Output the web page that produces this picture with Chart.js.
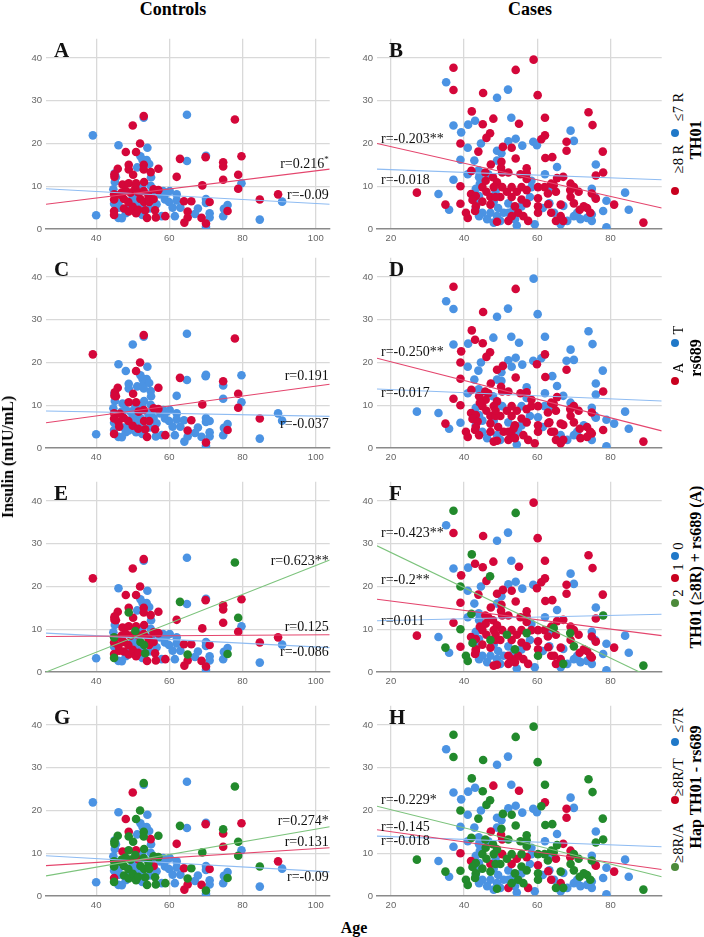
<!DOCTYPE html>
<html lang="en">
<head>
<meta charset="UTF-8">
<title>Insulin by Age</title>
<script src="https://cdn.jsdelivr.net/npm/chart.js"></script>
<style>
  body { margin: 0; background: #fff; width: 704px; height: 937px; position: relative; overflow: hidden; }
  .panel { position: absolute; }
  .txt { position: absolute; white-space: nowrap; line-height: 1; color: #000; font-family: "Liberation Serif", serif; }
  .bold { font-weight: bold; }
  .dot { position: absolute; width: 8px; height: 8px; border-radius: 50%; transform: translate(-50%, -50%); }
</style>
</head>
<body>
<script>
// ---- controls (same people in A, C, E, G; only the grouping changes)
const ctrlAge = [53.0,53.0,64.8,77.9,39.1,50.0,46.1,52.0,54.0,48.1,
  50.9,52.1,53.8,52.7,62.9,64.8,69.9,70.0,74.7,74.7,
  79.7,45.9,48.9,48.9,51.2,53.0,53.0,54.5,57.0,54.9,
  45.1,45.4,45.1,50.1,55.0,62.0,74.7,78.8,79.7,78.8,
  69.0,47.2,48.9,50.9,53.1,54.9,55.7,57.0,44.9,44.9,
  44.9,44.9,44.9,46.1,46.1,47.0,47.6,47.6,48.1,48.8,
  48.9,49.4,50.0,50.0,50.7,50.9,50.9,51.6,52.1,52.1,
  52.6,53.0,53.1,53.4,53.9,54.3,54.5,54.6,55.2,55.7,
  56.1,56.3,57.5,58.3,58.8,59.2,59.9,60.1,60.9,62.0,
  62.0,63.0,64.0,66.0,64.1,65.0,65.0,67.0,67.8,68.8,
  70.0,70.0,70.0,70.0,71.0,71.0,71.0,74.7,74.9,75.9,
  75.9,84.7,84.7,89.7,90.8,40.0,46.3,57.9,58.9,61.5,
  44.7,46.5,49.5,51.5,47.0,56.5,52.5,48.0,45.0,45.0];
const ctrlIns = [26.4,26.0,26.7,25.6,21.9,24.2,19.6,20.0,19.0,18.0,
  18.0,17.0,16.1,16.1,16.4,15.9,16.8,17.1,15.6,14.6,
  17.0,14.1,15.0,13.9,14.4,15.0,13.9,15.2,14.1,13.3,
  13.0,12.1,11.0,12.7,12.1,12.2,11.5,12.7,10.7,9.4,
  10.2,10.4,10.7,10.7,11.0,10.1,9.3,9.1,8.1,6.9,
  5.9,4.2,3.3,6.1,2.6,8.5,7.0,4.8,3.7,6.3,
  4.1,8.5,7.4,5.2,9.6,6.3,3.7,8.5,7.0,5.4,
  3.3,8.9,6.3,4.4,2.6,7.8,6.3,4.8,8.5,7.0,
  4.4,2.7,8.1,8.9,6.9,8.4,6.3,8.9,5.0,8.1,
  6.7,5.0,6.5,6.5,1.5,4.1,2.7,3.5,4.8,2.6,
  7.0,6.1,1.3,0.5,6.3,3.7,2.7,3.0,4.7,5.6,
  4.2,6.9,2.2,8.1,6.4,3.2,5.0,3.0,3.0,3.0,
  9.3,8.0,5.5,4.5,2.5,5.8,10.0,9.0,12.2,12.8];
// TH01: 1 = >=8R, 0 = <=7R
const ctrlTH01 = [1,0,0,1,0,1,0,1,0,1, 1,0,0,0,1,0,1,0,1,1, 1,1,1,1,0,1,1,0,1,1,
  0,0,0,1,0,1,1,1,0,1, 1,1,1,1,1,0,1,1,1,1, 0,1,1,0,0,1,1,1,0,1,
  1,1,0,1,1,0,1,1,1,0, 0,1,1,1,1,1,1,0,0,1, 1,1,0,0,0,0,0,0,0,0,
  0,0,1,1,1,1,1,0,0,1, 0,0,1,0,1,0,0,0,0,0, 1,1,0,1,0,0,0,0,1,0,
  0,1,0,1,0,0,0,1,1,1];
// rs689: 1 = A, 0 = T
const ctrlRs689 = [1,0,0,1,1,0,0,1,0,0, 1,0,0,0,1,0,0,0,1,0, 0,1,0,0,0,0,0,0,1,0,
  1,1,0,1,0,0,0,1,0,1, 1,0,1,1,0,0,1,1,1,1, 0,0,1,1,0,0,1,0,0,1,
  0,0,0,1,0,0,0,1,0,0, 0,1,1,1,1,0,1,0,0,0, 1,0,0,0,0,0,0,0,0,0,
  0,0,0,1,0,1,0,0,0,0, 0,0,1,0,0,0,0,0,0,0, 1,1,0,0,0,0,1,0,1,0,
  0,1,0,1,0,0,0,0,1,0];
// TH01 (>=8R) + rs689 (A): 2, 1, 0
const ctrlCombo = [1,0,0,2,1,1,0,1,0,1, 1,0,0,0,2,0,1,0,1,1, 1,1,1,2,0,1,1,0,1,1,
  1,1,0,1,0,1,1,2,0,1, 1,1,1,1,1,0,1,1,2,1, 0,1,2,1,0,1,1,1,0,1,
  1,1,0,1,2,0,1,1,2,0, 0,1,2,2,1,1,1,0,0,1, 1,1,0,0,0,0,0,0,0,0,
  0,0,1,1,1,2,1,0,0,1, 0,0,1,0,1,0,0,0,0,0, 2,1,0,1,0,0,1,0,1,0,
  0,1,0,1,0,0,0,1,1,1];
// Hap TH01 - rs689: 2 = >=8R/A, 1 = >=8R/T, 0 = <=7R
const ctrlHap = [2,0,0,2,0,1,0,2,0,1, 2,0,0,0,2,0,1,0,2,1, 1,2,1,2,0,2,2,0,2,1,
  0,0,0,2,0,1,1,2,0,2, 2,1,2,1,2,0,2,2,2,2, 0,1,2,0,0,2,2,2,0,2,
  2,2,0,2,2,0,2,1,2,0, 0,2,2,2,2,2,2,0,0,1, 2,2,0,0,0,0,0,0,0,0,
  0,0,1,2,1,2,1,0,0,1, 0,0,2,0,1,0,0,0,0,0, 2,2,0,1,0,0,0,0,2,0,
  0,2,0,2,0,0,0,2,2,2];

// ---- cases (B, D, F, H)
const caseAge = [59.0,37.1,54.1,35.1,37.1,45.2,52.0,49.0,60.1,42.1,
  74.0,48.0,52.9,43.0,41.1,45.1,55.0,62.1,75.1,37.1,
  39.2,47.1,46.1,39.0,41.0,44.6,49.0,50.2,43.9,52.1,
  54.1,50.6,53.0,55.9,58.9,59.9,61.1,62.1,69.1,70.0,
  68.0,68.0,77.9,62.2,64.1,54.1,49.0,39.0,42.8,42.0,
  44.0,47.3,50.2,50.1,46.6,44.3,41.0,37.1,39.0,57.1,
  57.1,62.1,65.4,67.1,65.4,76.0,78.0,76.0,74.9,74.9,
  84.0,85.0,89.0,81.0,78.9,78.9,27.1,33.0,34.9,35.9,
  39.0,41.0,45.8,47.9,
  41.9,43.2,42.3,43.2,43.0,45.0,46.1,47.2,45.0,47.2,
  49.0,48.1,50.4,51.7,49.9,53.0,53.0,54.4,55.7,57.1,
  55.7,57.1,53.9,54.8,53.0,56.2,57.5,52.1,49.0,60.2,
  60.2,60.2,62.0,62.9,63.8,65.1,64.5,66.4,69.1,70.0,
  71.3,69.1,70.0,72.7,73.6,71.6,74.5,65.1,67.1,63.8,
  66.4,60.2,48.6,40.5,55.4,57.1,52.1,50.4,45.9,63.0,
  76.0,69.0,
  44.1,44.3,43.2,44.1,43.7,43.2,45.0,44.1,48.6,48.1,
  49.3,50.8,49.0,49.9,48.1,55.7,53.5,52.1,52.1,58.4,
  58.4,58.0,59.3,61.5,63.3,63.3,64.6,67.1,70.0,70.9,
  71.8,74.9,74.9,75.8,78.0,73.6,54.4,53.9,46.3,47.2,
  68.2,66.4];
const caseIns = [39.6,37.7,37.2,34.3,32.5,31.8,32.6,30.7,31.3,27.5,
  27.3,25.8,26.0,25.3,24.4,24.5,24.6,26.0,24.3,24.2,
  22.6,22.4,21.3,20.0,19.0,20.0,18.3,17.7,18.1,20.5,
  21.1,19.2,19.0,19.5,20.4,19.6,21.0,21.9,23.0,20.6,
  20.4,18.3,18.1,16.6,16.8,16.5,16.0,16.2,16.0,13.6,
  13.7,15.1,15.7,14.3,12.8,12.8,12.8,11.5,10.0,14.2,
  13.0,12.8,11.9,12.2,14.5,15.1,13.2,12.5,9.4,8.3,
  8.5,4.5,1.5,5.7,6.6,0.4,8.5,8.2,5.7,4.5,
  5.9,2.6,13.2,12.1,
  8.2,7.7,6.8,5.3,4.2,9.8,8.7,7.5,6.4,5.7,
  10.9,9.8,9.8,8.7,7.5,9.8,7.5,8.7,9.8,9.1,
  6.9,6.0,5.3,3.8,3.0,3.0,1.9,1.9,1.7,7.2,
  5.3,3.8,9.8,8.3,10.6,8.7,10.3,5.7,10.6,9.8,
  8.7,7.5,6.0,5.3,4.9,4.5,3.8,1.9,1.9,3.8,
  3.0,9.8,7.5,3.8,12.8,11.7,13.2,13.2,11.3,5.8,
  7.1,9.1,
  12.1,10.6,9.4,7.7,6.2,4.9,3.8,3.0,8.7,6.4,
  4.9,3.8,3.0,1.9,1.5,5.3,4.5,3.8,6.0,11.3,
  9.8,7.5,1.1,4.9,6.0,9.4,3.8,5.4,3.0,3.8,
  2.3,1.9,3.4,7.5,4.2,2.6,0.8,2.3,2.3,3.8,
  1.9,1.1];
const caseTH01 = [1,1,1,0,1,1,0,0,1,1, 1,1,0,0,0,1,1,1,1,0, 0,1,1,1,0,0,0,0,1,0,
  0,1,1,0,0,0,1,1,0,0, 1,1,1,1,1,1,0,0,0,1, 0,1,1,1,0,0,0,0,1,1,
  1,0,1,1,0,0,1,1,0,1, 0,0,1,1,0,0,1,0,1,0, 1,1,1,1,
  1,1,1,1,1,1,1,1,1,1, 1,1,1,1,1,1,1,1,1,1, 1,1,1,1,1,1,1,1,1,1,
  1,1,1,1,1,1,1,1,1,1, 1,1,1,1,1,1,1,1,1,1, 1,1,1,1,1,1,1,1,1,1,
  1,1,
  0,0,0,0,0,0,0,0,0,0, 0,0,0,0,0,0,0,0,0,0, 0,0,0,0,0,0,0,0,0,0,
  0,0,0,0,0,0,0,0,0,0, 0,0];
const caseRs689 = [0,1,1,0,0,1,0,0,0,1, 0,0,0,1,0,1,0,0,0,0, 1,1,1,1,0,0,1,0,0,0,
  0,1,0,0,0,1,0,1,0,0, 0,1,0,1,0,1,0,1,0,1, 0,1,0,1,1,0,0,1,1,0,
  1,0,1,0,0,0,1,0,0,1, 0,0,1,0,0,0,0,0,1,0, 0,1,1,0,
  1,1,1,0,1,1,1,1,0,1, 1,1,0,1,1,1,1,1,0,1, 1,1,1,0,1,1,1,1,1,0,
  1,1,0,1,1,1,1,1,0,1, 1,1,1,0,1,1,1,1,1,1, 0,1,1,1,1,0,1,1,1,1,
  0,1,
  1,1,0,0,1,1,0,1,1,0, 1,1,0,0,1,0,1,1,0,1, 1,0,1,0,1,0,1,1,0,0,
  1,0,1,0,1,1,0,1,0,1, 0,1];
const caseCombo = [1,2,2,0,1,1,0,0,1,2, 1,1,0,1,0,1,1,1,1,0, 1,2,1,2,0,0,1,0,1,0,
  0,1,1,0,0,1,1,1,0,0, 1,1,1,1,1,1,0,1,0,2, 0,1,1,1,1,0,0,1,2,1,
  1,0,1,1,0,0,2,1,0,1, 0,0,2,1,0,0,1,0,2,0, 1,2,1,1,
  1,1,2,1,1,1,1,2,1,1, 1,1,1,2,1,1,1,1,1,2, 1,1,2,1,1,1,1,1,1,1,
  1,2,1,1,1,1,2,1,1,1, 1,1,2,1,1,1,1,1,2,1, 1,1,1,2,1,1,1,1,1,1,
  1,2,
  0,1,0,0,0,1,0,0,1,0, 0,0,0,0,1,0,0,1,0,0, 1,0,0,0,0,0,1,0,0,0,
  0,0,1,0,0,0,0,1,0,0, 0,0];
const caseHap = [2,2,2,0,2,2,0,0,2,2, 2,1,0,0,0,2,1,2,2,0, 0,2,2,2,0,0,0,0,2,0,
  0,2,2,0,0,0,2,1,0,0, 1,1,2,2,2,2,0,0,0,2, 0,1,2,1,0,0,0,0,1,2,
  2,0,2,1,0,0,2,2,0,2, 0,0,2,1,0,0,2,0,2,0, 2,2,2,2,
  1,2,2,2,2,2,2,1,2,2, 2,2,1,2,2,2,1,1,2,1, 2,2,2,2,2,2,1,1,2,1,
  2,2,2,2,2,1,2,2,1,2, 2,2,2,2,2,2,2,2,2,1, 1,2,2,2,2,2,2,1,2,1,
  1,1,
  0,0,0,0,0,0,0,0,0,0, 0,0,0,0,0,0,0,0,0,0, 0,0,0,0,0,0,0,0,0,0,
  0,0,0,0,0,0,0,0,0,0, 0,0];

const ctrlAgeTicks = [40, 60, 80, 100];
const caseAgeTicks = [20, 40, 60, 80];
const insTicks = [0, 10, 20, 30, 40];

// fit lines: [group, insulin at left edge, insulin at right edge]
const fitA = [[1, 5.8, 14.0], [0, 9.4, 5.8]];
const fitB = [[1, 20.0, 4.9], [0, 14.0, 11.5]];
const fitC = [[1, 5.9, 14.9], [0, 8.65, 7.4]];
const fitD = [[1, 21.0, 4.0], [0, 13.8, 11.0]];
const fitE = [[2, 0, 26.2], [1, 8.3, 8.7], [0, 9.1, 5.7]];
const fitF = [[2, 29.5, -2.5], [1, 17.0, 8.5], [0, 12.0, 13.5]];
const fitG = [[2, 4.7, 16.2], [1, 7.1, 11.3], [0, 9.4, 5.65]];
const fitH = [[2, 21.0, 4.5], [1, 15.5, 6.2], [0, 14.0, 11.5]];

// correlation labels: [text, superscript, insulin level of baseline]
const labA = [['r=0.216', '*', 14.2], ['r=-0.09', '', 7.1]];
const labB = [['r=-0.203**', '', 20.1], ['r=-0.018', '', 10.6]];
const labC = [['r=0.191', '', 15.8], ['r=-0.037', '', 4.7]];
const labD = [['r=-0.250**', '', 21.5], ['r=-0.017', '', 12.0]];
const labE = [['r=0.623**', '', 25.1], ['r=0.125', '', 9.5], ['r=-0.086', '', 3.8]];
const labF = [['r=-0.423**', '', 31.5], ['r=-0.2**', '', 20.5], ['r=0.011', '', 11.0]];
const labG = [['r=0.274*', '', 16.5], ['r=0.131', '', 11.6], ['r=-0.09', '', 3.6]];
const labH = [['r=-0.229*', '', 21.5], ['r=-0.145', '', 15.3], ['r=-0.018', '', 11.9]];

const legendTitles = ['TH01', 'rs689', 'TH01 (\u22658R) + rs689 (A)', 'Hap TH01 - rs689'];
const legendLabels = [['\u22658 R', '\u22647 R'], ['A', 'T'], ['2', '1', '0'], ['\u22658R/A', '\u22658R/T', '\u22647R']];
const legendGroups = [[1, 0], [1, 0], [2, 1, 0], [2, 1, 0]];

const pointColors = { 0: '#4b93e3', 1: '#d4073a', 2: '#228a2c' };
const lineColors = { 0: '#8fbcf2', 1: '#e4456d', 2: '#7cc37c' };
const legendColors = { 0: '#1f78c8', 1: '#c8001e', 2: '#4c8a3a' };

const panels = [
  { letter: 'A', ages: ctrlAge, ins: ctrlIns, groups: ctrlTH01, fits: fitA, labels: labA, left: 46, width: 288, top: 29, xMin: 26.3, xMax: 103.8, ticks: ctrlAgeTicks, right: true, dx: 8 },
  { letter: 'B', ages: caseAge, ins: caseIns, groups: caseTH01, fits: fitB, labels: labB, left: 377, width: 289, top: 29, xMin: 16.2, xMax: 94, ticks: caseAgeTicks, right: false, dx: 12 },
  { letter: 'C', ages: ctrlAge, ins: ctrlIns, groups: ctrlRs689, fits: fitC, labels: labC, left: 46, width: 288, top: 248, xMin: 26.3, xMax: 103.8, ticks: ctrlAgeTicks, right: true, dx: 8 },
  { letter: 'D', ages: caseAge, ins: caseIns, groups: caseRs689, fits: fitD, labels: labD, left: 377, width: 289, top: 248, xMin: 16.2, xMax: 94, ticks: caseAgeTicks, right: false, dx: 12 },
  { letter: 'E', ages: ctrlAge, ins: ctrlIns, groups: ctrlCombo, fits: fitE, labels: labE, left: 46, width: 288, top: 472, xMin: 26.3, xMax: 103.8, ticks: ctrlAgeTicks, right: true, dx: 8 },
  { letter: 'F', ages: caseAge, ins: caseIns, groups: caseCombo, fits: fitF, labels: labF, left: 377, width: 289, top: 472, xMin: 16.2, xMax: 94, ticks: caseAgeTicks, right: false, dx: 12 },
  { letter: 'G', ages: ctrlAge, ins: ctrlIns, groups: ctrlHap, fits: fitG, labels: labG, left: 46, width: 288, top: 696, xMin: 26.3, xMax: 103.8, ticks: ctrlAgeTicks, right: true, dx: 8 },
  { letter: 'H', ages: caseAge, ins: caseIns, groups: caseHap, fits: fitH, labels: labH, left: 377, width: 289, top: 696, xMin: 16.2, xMax: 94, ticks: caseAgeTicks, right: false, dx: 12 }
];

// letter + r labels drawn on top of the plot
const panelText = {
  id: 'panelText',
  afterDatasetsDraw(chart, args, opts) {
    const { ctx, chartArea, scales } = chart;
    ctx.save();
    ctx.fillStyle = '#111';
    ctx.textBaseline = 'alphabetic';
    ctx.textAlign = 'left';
    ctx.font = 'bold 21px "Liberation Serif"';
    ctx.fillText(opts.letter, chartArea.left + opts.dx, chartArea.top + 18);
    opts.labels.forEach(([txt, sup, v]) => {
      const y = scales.y.getPixelForValue(v);
      ctx.font = '14px "Liberation Serif"';
      const w = ctx.measureText(txt).width;
      ctx.font = '9px "Liberation Serif"';
      const ws = sup ? ctx.measureText(sup).width : 0;
      let x = opts.right ? chartArea.right - 1 - w - ws : chartArea.left + 4;
      ctx.font = '14px "Liberation Serif"';
      ctx.fillText(txt, x, y);
      if (sup) {
        ctx.font = '9px "Liberation Serif"';
        ctx.fillText(sup, x + w, y - 6);
      }
    });
    ctx.restore();
  }
};

function groupPoints(p, g) {
  const out = [];
  for (let i = 0; i < p.ages.length; i++) {
    if (p.groups[i] === g) out.push({ x: p.ages[i], y: p.ins[i] });
  }
  return out;
}

function makePanel(p) {
  const wrap = document.createElement('div');
  wrap.className = 'panel';
  wrap.style.left = (p.left - 30) + 'px';
  wrap.style.top = p.top + 'px';
  wrap.style.width = (p.width + 30) + 'px';
  wrap.style.height = '220px';
  const canvas = document.createElement('canvas');
  wrap.appendChild(canvas);
  document.body.appendChild(wrap);

  const datasets = [];
  [0, 1, 2].forEach(g => {
    const pts = groupPoints(p, g);
    if (!pts.length) return;
    datasets.push({
      type: 'scatter', data: pts, backgroundColor: pointColors[g],
      pointRadius: 4.3, borderWidth: 0, order: 3 - g
    });
  });
  p.fits.forEach(([g, y0, y1]) => {
    datasets.push({
      type: 'line', data: [{ x: p.xMin, y: y0 }, { x: p.xMax, y: y1 }],
      borderColor: lineColors[g], borderWidth: 1.1, pointRadius: 0, order: 0
    });
  });

  const tickFont = { family: '"Liberation Sans"', size: 9.5 };
  new Chart(canvas, {
    data: { datasets },
    options: {
      responsive: true,
      maintainAspectRatio: false,
      animation: false,
      events: [],
      layout: { padding: 0 },
      plugins: {
        legend: { display: false },
        tooltip: { enabled: false },
        panelText: { letter: p.letter, labels: p.labels, right: p.right, dx: p.dx }
      },
      scales: {
        x: {
          type: 'linear', min: p.xMin, max: p.xMax,
          afterBuildTicks: s => { s.ticks = p.ticks.map(v => ({ value: v })); },
          afterFit: s => { s.height = 20; },
          grid: { color: '#d9d9d9', lineWidth: 1.3, drawTicks: false },
          border: { display: true, color: '#8a8a8a', width: 1.5 },
          ticks: { font: tickFont, color: '#666', padding: 4, maxRotation: 0, autoSkip: false }
        },
        y: {
          type: 'linear', min: 0, max: 44.5,
          afterBuildTicks: s => { s.ticks = insTicks.map(v => ({ value: v })); },
          afterFit: s => { s.width = 30; },
          grid: { color: c => c.tick.value === 0 ? 'rgba(0,0,0,0)' : '#d9d9d9', lineWidth: 1.3, drawTicks: false },
          border: { display: false },
          ticks: { font: tickFont, color: '#666', padding: 4, autoSkip: false }
        }
      }
    },
    plugins: [panelText]
  });
}

panels.forEach(makePanel);

// ---- text around the panels
function addText(text, x, y, size, bold, rotate) {
  const d = document.createElement('div');
  d.className = 'txt' + (bold ? ' bold' : '');
  d.textContent = text;
  d.style.fontSize = size + 'px';
  d.style.left = x + 'px';
  d.style.top = y + 'px';
  d.style.transform = 'translate(-50%, -50%)' + (rotate ? ' rotate(-90deg)' : '');
  document.body.appendChild(d);
}
function addDot(color, x, y) {
  const d = document.createElement('div');
  d.className = 'dot';
  d.style.background = color;
  d.style.left = x + 'px';
  d.style.top = y + 'px';
  document.body.appendChild(d);
}

addText('Controls', 173, 9, 18, true, false);
addText('Cases', 530, 9, 18, true, false);
addText('Insulin (mIU/mL)', 8, 457, 16, true, true);
addText('Age', 354, 928, 16, true, false);

const legendDotY = [[191, 133], [381, 343], [603, 578, 556], [867, 800, 742]];
const legendTextY = [[159, 107], [367.5, 330], [592.5, 566.5, 546], [842.5, 776.5, 720]];
const legendTitleY = [140, 358, 567, 787];
legendTitles.forEach((t, r) => {
  addText(t, 696, legendTitleY[r], 16, true, true);
  legendLabels[r].forEach((lab, k) => {
    addDot(legendColors[legendGroups[r][k]], 675, legendDotY[r][k]);
    addText(lab, 677.5, legendTextY[r][k], 14.5, false, true);
  });
});
</script>
</body>
</html>
